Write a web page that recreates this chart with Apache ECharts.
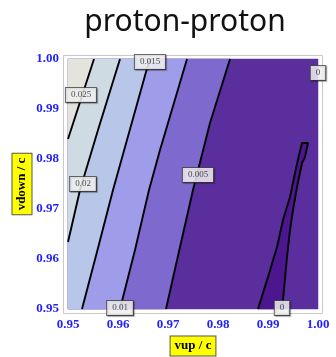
<!DOCTYPE html>
<html>
<head>
<meta charset="utf-8">
<script src="https://cdn.jsdelivr.net/npm/echarts@6/dist/echarts.min.js"></script>
<style>
  html, body { margin: 0; padding: 0; background: #fff; }
  #chart { width: 336px; height: 357px; }
</style>
</head>
<body>
<div id="chart"></div>
<script>
// tick labels on both axes
var vupTicks = [0.95, 0.96, 0.97, 0.98, 0.99, 1.00];
var vdownTicks = [0.95, 0.96, 0.97, 0.98, 0.99, 1.00];

// contour lines [vup, vdown], from top edge downwards
var c025 = [[0.9552, 1.0], [0.9526, 0.9920], [0.95, 0.9840]];
var c020 = [[0.9604, 1.0], [0.9560, 0.9858], [0.9524, 0.9738], [0.95, 0.9634]];
var c015 = [[0.9664, 1.0], [0.9656, 0.9974], [0.9590, 0.9738], [0.9559, 0.9618], [0.9528, 0.95]];
var c010 = [[0.9738, 1.0], [0.9684, 0.9818], [0.9662, 0.9738], [0.9634, 0.9618], [0.9604, 0.95]];
var c005 = [[0.9824, 1.0], [0.9784, 0.9872], [0.9750, 0.9738], [0.9724, 0.9624], [0.9696, 0.95]];
// closed 0 contour (bottom right), left side up then right side down
var c000 = [[0.9880, 0.95], [0.9900, 0.9564], [0.9918, 0.9624], [0.9930, 0.9678], [0.9944, 0.9724],
            [0.9954, 0.9772], [0.9962, 0.9808], [0.9968, 0.9832], [0.9980, 0.9832], [0.9974, 0.9804],
            [0.9968, 0.9792], [0.9958, 0.9744], [0.9950, 0.9698], [0.9944, 0.9658], [0.9938, 0.9604],
            [0.9930, 0.9518], [0.9930, 0.95]];

// contour labels
var labelText = ['0.025', '0.02', '0.015', '0.01', '0.005', '0', '0'];
var labelVup = [0.9526, 0.9530, 0.9664, 0.9604, 0.9760, 0.9928, 1.0000];
var labelVdown = [0.9928, 0.9750, 0.9994, 0.9502, 0.9768, 0.9502, 0.9972];

// band colours, low -> high
var colNeg = '#4b168e';
var bandColors = ['#5b2e9e', '#7e69ce', '#9f9cea', '#b8c6e9', '#cedbe3', '#e5e4dc'];

var lo = 0.95, hi = 1.0;
var lines = [c005, c010, c015, c020, c025];

// polygons painted in order: whole box, then the upper-left side of each line
var polys = [[[lo, lo], [hi, lo], [hi, hi], [lo, hi]]];
for (var i = 0; i < lines.length; i++) {
  var p = lines[i].slice();
  var last = p[p.length - 1];
  if (last[1] === lo) p.push([lo, lo]);
  p.push([lo, hi]);
  polys.push(p);
}
polys.push(c000);
var polyColors = bandColors.concat([colNeg]);

var myChart = echarts.init(document.getElementById('chart'));

var series = [{
  type: 'custom',
  coordinateSystem: 'cartesian2d',
  silent: true,
  z: 1,
  data: polys.map(function (p, i) { return [lo, lo, i]; }),
  renderItem: function (params, api) {
    var k = api.value(2);
    var pts = polys[k].map(function (d) { return api.coord(d); });
    return {
      type: 'polygon',
      shape: { points: pts },
      style: { fill: polyColors[k], stroke: polyColors[k], lineWidth: 0.5 }
    };
  }
}];

lines.concat([c000]).forEach(function (c) {
  series.push({
    type: 'line',
    data: c,
    symbol: 'none',
    silent: true,
    z: 3,
    lineStyle: { color: '#000', width: 1.9 }
  });
});

series.push({
  type: 'scatter',
  symbolSize: 0,
  silent: true,
  z: 5,
  data: labelText.map(function (t, i) { return [labelVup[i], labelVdown[i], t]; }),
  label: {
    show: true,
    position: 'inside',
    formatter: function (p) { return p.data[2]; },
    color: '#222',
    fontFamily: 'Liberation Serif',
    fontSize: 9,
    backgroundColor: '#fff',
    borderColor: '#444',
    borderWidth: 1,
    padding: [3, 5, 2, 5],
    shadowColor: 'rgba(0,0,0,0.35)',
    shadowOffsetX: 1,
    shadowOffsetY: 1,
    shadowBlur: 1
  }
});

var tickLabel = {
  color: '#1f1fff',
  fontWeight: 'bold',
  fontFamily: 'Liberation Serif',
  fontSize: 13,
  margin: 9,
  formatter: function (v) { return v.toFixed(2); }
};

var option = {
  animation: false,
  grid: { left: 68, right: 18, top: 59, bottom: 48 },
  xAxis: {
    type: 'value', min: lo, max: hi, interval: 0.01,
    axisLine: { show: false }, axisTick: { show: false }, splitLine: { show: false },
    axisLabel: Object.assign({ customValues: vupTicks, showMinLabel: true, showMaxLabel: true }, tickLabel)
  },
  yAxis: {
    type: 'value', min: lo, max: hi, interval: 0.01,
    axisLine: { show: false }, axisTick: { show: false }, splitLine: { show: false },
    axisLabel: Object.assign({ customValues: vdownTicks, showMinLabel: true, showMaxLabel: true }, tickLabel)
  },
  graphic: [
    {
      type: 'rect', z: 0,
      shape: { x: 63.5, y: 55.5, width: 259, height: 258 },
      style: { fill: 'none', stroke: '#c9c9c9', lineWidth: 1 }
    },
    {
      type: 'text', x: 185, y: 22,
      style: {
        text: 'proton-proton', font: '30px "Noto Sans"', fill: '#111',
        align: 'center', verticalAlign: 'middle'
      }
    },
    {
      type: 'text', x: 22, y: 184, rotation: Math.PI / 2,
      style: {
        text: 'vdown / c', font: 'bold 13px "Liberation Serif"', fill: '#000',
        align: 'center', verticalAlign: 'middle',
        backgroundColor: '#ffff00', borderColor: '#555', borderWidth: 1, padding: [3, 4, 3, 4]
      }
    },
    {
      type: 'text', x: 193, y: 346,
      style: {
        text: 'vup / c', font: 'bold 13px "Liberation Serif"', fill: '#000',
        align: 'center', verticalAlign: 'middle',
        backgroundColor: '#ffff00', borderColor: '#555', borderWidth: 1, padding: [3, 4, 3, 4]
      }
    }
  ],
  series: series
};

myChart.setOption(option);
</script>
</body>
</html>
